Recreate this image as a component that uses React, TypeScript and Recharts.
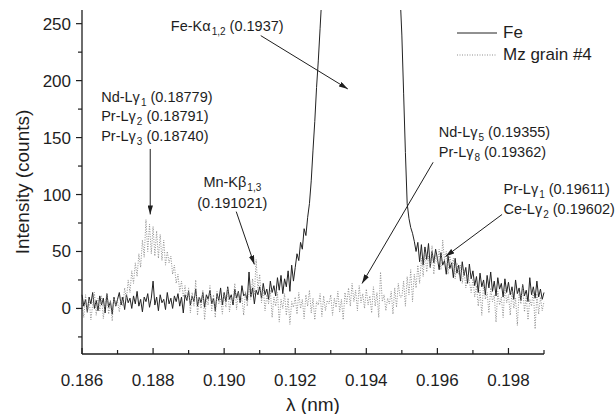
import { LineChart, Line, XAxis, YAxis, ReferenceLine, ReferenceDot, Legend } from 'recharts';

// wavelength grid of the scan (nm)
const LAMBDA_START = 0.186;
const LAMBDA_STEP = 0.00005;

// Fe reference spectrum, counts (peak top is off-scale)
const feCounts = [
  12, 2, 8, -3, 10, 4, 14, 0, 7, -2, 11, 3, 9, -4, 13, 1, 6, -5, 10, 2,
  8, 14, 3, 10, -1, 12, 5, 9, 0, 11, 4, 15, 2, 8, -3, 10, 6, 13, 1, 9,
  24, 3, 10, -2, 12, 5, 8, -1, 14, 4, 9, 0, 11, 6, 13, 2, 10, -4, 12, 7,
  15, 3, 11, 6, 17, 2, 10, 5, 14, 1, 12, 8, 16, 4, 9, -2, 13, 7, 18, 3,
  14, 6, 19, 8, 12, 3, 17, 9, 15, 5, 20, 11, 13, 7, 32, 10, 18, 4, 16, 12,
  19, 9, 22, 12, 17, 8, 24, 14, 20, 11, 27, 16, 29, 13, 26, 19, 33, 15, 38, 24,
  36, 48, 42, 58, 52, 70, 64, 80, 92, 112, 139, 164, 194, 218, 246, 275, 420, 620, 860, 1100,
  1350, 1600, 1850, 2050, 2250, 2400, 2500, 2560, 2600, 2620, 2610, 2590, 2560, 2520, 2480, 2440, 2400, 2360, 2320, 2280,
  2220, 2140, 2040, 1920, 1780, 1630, 1470, 1310, 1150, 1000, 860, 740, 630, 540, 460, 400, 350, 315, 290, 276,
  240, 189, 137, 92, 79, 71, 66, 59, 50, 58, 41, 56, 38, 54, 43, 57, 36, 50, 40, 52,
  44, 34, 49, 38, 42, 30, 46, 35, 40, 27, 44, 31, 38, 24, 41, 29, 36, 22, 39, 26,
  33, 20, 28, 14, 31, 19, 25, 12, 29, 18, 32, 15, 24, 11, 27, 17, 22, 10, 26, 14,
  23, 12, 19, 8, 25, 13, 18, 7, 21, 11, 16, 6, 27, 12, 19, 9, 24, 10, 17, 8, 14,
];

// monazite grain #4 spectrum, counts
const mzCounts = [
  5, -8, 12, -4, 8, -10, 3, 14, -6, 9, -2, 11, -9, 4, 13, -5, 7, -11, 10, 2,
  6, -3, 10, 2, 18, 8, 25, 14, 33, 22, 40, 28, 48, 36, 60, 45, 78, 50, 74, 48,
  72, 46, 68, 44, 65, 42, 60, 38, 50, 40, 46, 30, 38, 22, 30, 15, 24, 10, 20, 6,
  18, -4, 14, 2, 25, -6, 10, 0, 16, -10, 8, 3, 20, -2, 12, -8, 15, 4, 9, -5,
  13, 1, 18, -3, 10, 6, 22, -1, 14, 5, 9, -6, 15, 2, 20, 8, 26, 12, 43, 16,
  30, 5, 18, -2, 12, 4, 16, -8, 10, 2, 14, -12, 8, 0, 13, -6, 9, -14, 6, 1,
  10, -5, 14, 0, 8, -9, 12, 2, 16, -4, 9, -10, 6, 3, 13, -7, 11, -2, 7, 4,
  12, -6, 9, 1, 15, -3, 8, -10, 14, 4, 18, 2, 22, 6, 16, -2, 20, 5, 13, 0,
  17, 3, 11, -4, 19, 2, 14, -8, 32, 6, 12, -2, 9, 4, 15, -5, 18, 1, 22, 10,
  10, 24, 2, 28, 12, 34, 6, 30, 18, 38, 22, 44, 28, 50, 32, 46, 36, 55, 30, 48,
  40, 52, 34, 60, 42, 50, 30, 46, 36, 44, 26, 40, 30, 38, 22, 34, 18, 30, 24, 14,
  26, 10, 20, 2, 16, -6, 22, 8, 14, -4, 18, 6, 12, -12, 15, 3, 10, -8, 19, 5,
  12, -6, 16, 0, 9, -15, 14, 4, 20, -3, 11, -10, 8, 2, 17, -18, 13, -5, 10, -2, 6,
];

const xTicks = [0.186, 0.187, 0.188, 0.189, 0.19, 0.191, 0.192, 0.193, 0.194, 0.195, 0.196, 0.197, 0.198, 0.199];
const yTicks = [-25, 0, 25, 50, 75, 100, 125, 150, 175, 200, 225, 250];

// line label parts: [text, subscript, rest]
const peakLabels = [
  { x: 0.1885, y: 244, anchor: 'start', gap: 19.5, lines: [['Fe-K\u03b1', '1,2', ' (0.1937)']] },
  {
    x: 0.18654, y: 181.5, anchor: 'start', gap: 19.5,
    lines: [['Nd-L\u03b3', '1', ' (0.18779)'], ['Pr-L\u03b3', '2', ' (0.18791)'], ['Pr-L\u03b3', '3', ' (0.18740)']],
  },
  { x: 0.19023, y: 106.5, anchor: 'middle', gap: 17, lines: [['Mn-K\u03b2', '1,3', ''], ['(0.191021)', '', '']] },
  { x: 0.19604, y: 150.4, anchor: 'start', gap: 19.5, lines: [['Nd-L\u03b3', '5', ' (0.19355)'], ['Pr-L\u03b3', '8', ' (0.19362)']] },
  { x: 0.19786, y: 100.4, anchor: 'start', gap: 19.5, lines: [['Pr-L\u03b3', '1', ' (0.19611)'], ['Ce-L\u03b3', '2', ' (0.19602)']] },
];

const arrows = [
  [{ x: 0.19103, y: 239.5 }, { x: 0.19348, y: 192.7 }],
  [{ x: 0.18792, y: 140 }, { x: 0.18792, y: 82.5 }],
  [{ x: 0.19034, y: 85 }, { x: 0.19085, y: 38.6 }],
  [{ x: 0.19588, y: 128.3 }, { x: 0.19388, y: 21.9 }],
  [{ x: 0.19782, y: 82.5 }, { x: 0.19623, y: 45.6 }],
];

const data = feCounts.map((fe, i) => ({
  lambda: +(LAMBDA_START + i * LAMBDA_STEP).toFixed(5),
  fe,
  mz: mzCounts[i],
}));

const FONT = '"Liberation Sans", Arial, Helvetica, sans-serif';
const INK = '#1e1e1e';

const series = [
  { key: 'fe', name: 'Fe', color: '#222222', dash: undefined },
  { key: 'mz', name: 'Mz grain #4', color: '#8f8f8f', dash: '1 1.5' },
];

const renderXTick = (props: any) => {
  const { x, y, payload } = props;
  const v = payload.value;
  const major = Math.round(v * 1000) % 2 === 0;
  return (
    <g>
      <line x1={x} x2={x} y1={y} y2={y - (major ? 6 : 4)} stroke={INK} strokeWidth={1.2} />
      {major && (
        <text x={x} y={y + 32} textAnchor="middle" fontSize={17} fontFamily={FONT} fill={INK}>
          {v.toFixed(3)}
        </text>
      )}
    </g>
  );
};

const renderYTick = (props: any) => {
  const { x, y, payload } = props;
  const v = payload.value;
  const major = v % 50 === 0;
  return (
    <g>
      <line x1={x} x2={x - (major ? 6 : 4)} y1={y} y2={y} stroke={INK} strokeWidth={1.2} />
      {major && (
        <text x={x - 11} y={y + 6} textAnchor="end" fontSize={17} fontFamily={FONT} fill={INK}>
          {v}
        </text>
      )}
    </g>
  );
};

const renderLegend = () => (
  <div style={{ fontFamily: FONT, fontSize: 17, color: INK }}>
    {series.map((s) => (
      <div key={s.key} style={{ display: 'flex', alignItems: 'center', height: 22 }}>
        <svg width={46} height={10}>
          <line x1={0} x2={40} y1={5} y2={5} stroke={s.color} strokeWidth={1} strokeDasharray={s.dash} />
        </svg>
        <span>{s.name}</span>
      </div>
    ))}
  </div>
);

const renderPeakLabel = (lbl: any) => (p: any) => (
  <text x={p.cx} y={p.cy} textAnchor={lbl.anchor} fontSize={14.5} fontFamily={FONT} fill={INK}>
    {lbl.lines.map((ln: string[], i: number) => (
      <tspan key={i} x={p.cx} dy={i === 0 ? 0 : lbl.gap}>
        <tspan>{ln[0]}</tspan>
        {ln[1] && (
          <tspan fontSize={10} dx={1} dy={4}>
            {ln[1]}
          </tspan>
        )}
        {ln[1] ? <tspan dy={-4}>{ln[2]}</tspan> : <tspan>{ln[2]}</tspan>}
      </tspan>
    ))}
  </text>
);

const renderArrow = (p: any) => (
  <line x1={p.x1} y1={p.y1} x2={p.x2} y2={p.y2} stroke={INK} strokeWidth={1} markerEnd="url(#arrowHead)" />
);

export default function App() {
  return (
    <div style={{ position: 'absolute', left: 0, top: 0, width: 615, height: 414, background: '#fff' }}>
      <LineChart width={615} height={414} data={data} margin={{ top: 10, right: 71, bottom: 20, left: 22 }}>
        <defs>
          <marker id="arrowHead" viewBox="0 0 10 6" refX={10} refY={3} markerWidth={9} markerHeight={5.4}
            markerUnits="userSpaceOnUse" orient="auto">
            <path d="M0,0 L10,3 L0,6 z" fill={INK} />
          </marker>
        </defs>
        <XAxis
          type="number"
          dataKey="lambda"
          domain={[0.186, 0.199]}
          ticks={xTicks}
          interval={0}
          height={40}
          tickSize={0}
          tickMargin={0}
          tickLine={false}
          tick={renderXTick}
          axisLine={{ stroke: INK, strokeWidth: 1.3 }}
          label={{
            content: ({ viewBox }: any) => (
              <text x={viewBox.x + viewBox.width / 2} y={viewBox.y + 57} textAnchor="middle"
                fontSize={19} fontFamily={FONT} fill={INK}>
                {'\u03bb (nm)'}
              </text>
            ),
          }}
        />
        <YAxis
          type="number"
          domain={[-40, 262]}
          allowDataOverflow
          ticks={yTicks}
          interval={0}
          width={60}
          tickSize={0}
          tickMargin={0}
          tickLine={false}
          tick={renderYTick}
          axisLine={{ stroke: INK, strokeWidth: 1.3 }}
          label={{
            content: ({ viewBox }: any) => {
              const cx = viewBox.x;
              const cy = viewBox.y + viewBox.height / 2;
              return (
                <text x={cx} y={cy} transform={`rotate(-90 ${cx} ${cy})`} textAnchor="middle"
                  dominantBaseline="central" fontSize={19} fontFamily={FONT} fill={INK}>
                  Intensity (counts)
                </text>
              );
            },
          }}
        />
        {series.map((s) => (
          <Line
            key={s.key}
            type="linear"
            dataKey={s.key}
            name={s.name}
            stroke={s.color}
            strokeWidth={1}
            strokeDasharray={s.dash}
            dot={false}
            activeDot={false}
            isAnimationActive={false}
          />
        ))}
        {arrows.map((seg, i) => (
          <ReferenceLine key={`a${i}`} segment={seg} ifOverflow="visible" shape={renderArrow} />
        ))}
        {peakLabels.map((lbl, i) => (
          <ReferenceDot key={`l${i}`} x={lbl.x} y={lbl.y} r={0} ifOverflow="visible" shape={renderPeakLabel(lbl)} />
        ))}
        <Legend
          layout="vertical"
          align="center"
          verticalAlign="middle"
          wrapperStyle={{ left: 457, top: 22, width: 160 }}
          content={renderLegend}
        />
      </LineChart>
    </div>
  );
}
